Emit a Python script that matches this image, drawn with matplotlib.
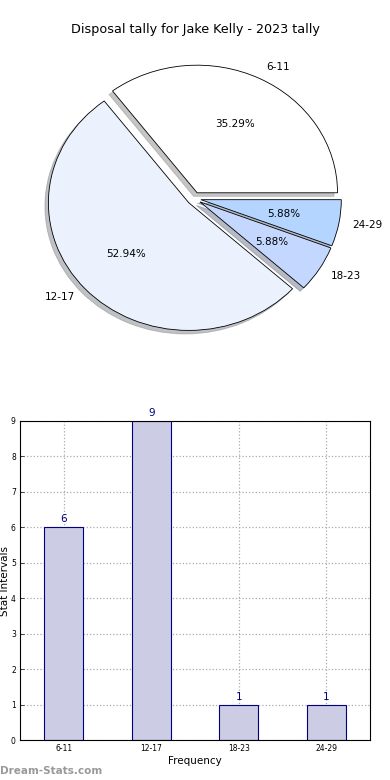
import matplotlib
matplotlib.use("Agg")
import matplotlib.pyplot as plt

title = "Disposal tally for Jake Kelly - 2023 tally"
categories = ["6-11", "12-17", "18-23", "24-29"]
counts = [6, 9, 1, 1]
pie_colors = ["#ffffff", "#ebf2fe", "#c4d8ff", "#b4d5ff"]
yticks = list(range(0, 10))

plt.rcParams['font.family'] = ['DejaVu Sans']
fig = plt.figure(figsize=(3.9, 7.8), dpi=100)

# Pie
W, H = 390, 780
axp = fig.add_axes([18.5 / W, (780 - 358) / H, 351 / W, 319 / H])
wedges, texts, autotexts = axp.pie(
    counts, labels=categories, colors=pie_colors, autopct="%.2f%%",
    explode=[0.05] * 4, shadow={'ox': -0.018, 'oy': -0.02, 'shade': 0.45},
    startangle=0,
    wedgeprops=dict(edgecolor="black", linewidth=0.6),
    textprops=dict(fontsize=7.5))
axp.set_aspect("auto")
axp.set_xlim(-1.25, 1.25)
axp.set_ylim(-1.25, 1.25)
fig.text(0.5, 1 - 30 / H, title, ha="center", va="center", fontsize=9.2)

# Bars
axb = fig.add_axes([20 / W, 40 / H, 350 / W, 319 / H])
x = list(range(len(categories)))
bars = axb.bar(x, counts, width=0.45, color="#ccccE4", edgecolor="#000080",
               linewidth=0.8, zorder=2)
for xi, c in zip(x, counts):
    axb.text(xi, c + 0.08, str(c), ha="center", va="bottom", color="#000080",
             fontsize=7.5)
axb.set_xlim(-0.5, 3.5)
axb.set_ylim(0, 9)
axb.set_xticks(x)
axb.set_xticklabels(categories, fontsize=5.5)
axb.set_yticks(yticks)
axb.set_yticklabels([str(t) for t in yticks], fontsize=5.5)
axb.tick_params(direction="in", length=3, width=0.5, pad=3)
axb.grid(True, linestyle=":", color="#aaaaaa", linewidth=0.9, zorder=0)
axb.set_axisbelow(True)
axb.set_xlabel("Frequency", fontsize=7.5, labelpad=2)
axb.set_ylabel("Stat Intervals", fontsize=7.5, labelpad=1)
for s in axb.spines.values():
    s.set_linewidth(0.8)

fig.text(0 / W, 1 - 771 / H, "Dream-Stats.com", color="#999999", fontsize=7.5,
         fontweight="bold", ha="left", va="center")

fig.savefig("out.png", dpi=100)
